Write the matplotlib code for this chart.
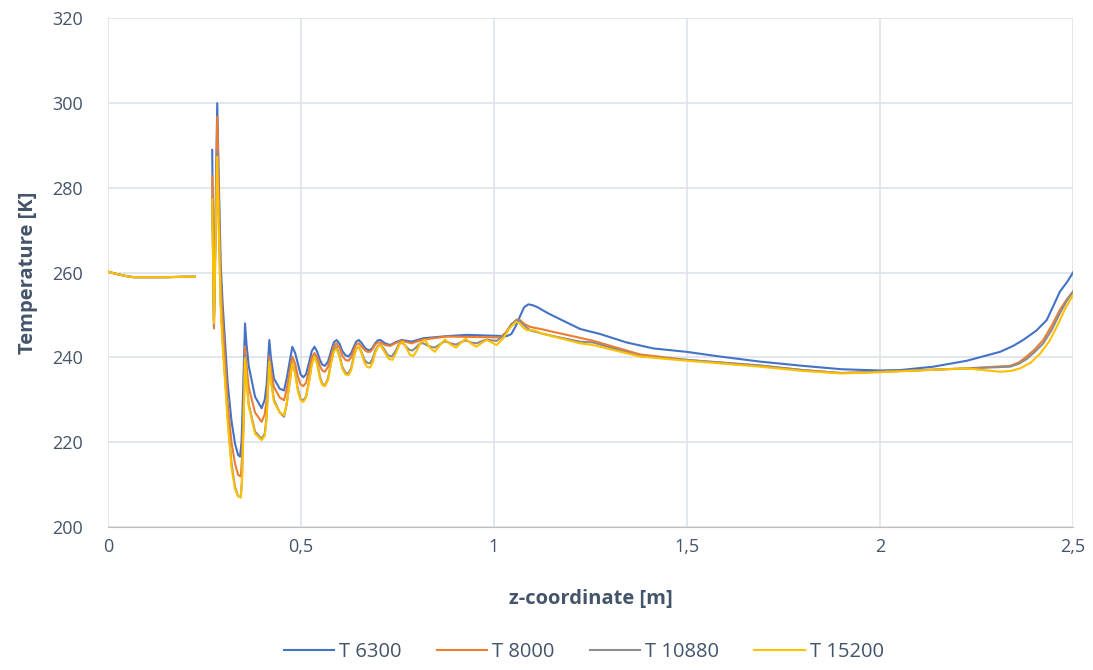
import numpy as np
import matplotlib
matplotlib.use("Agg")
import matplotlib.pyplot as plt

# z-coordinate [m] and temperature [K]
# (NaN marks the gap in the curves between the inlet part and the spikes)
z_inlet = [0.0, 0.02, 0.045, 0.066, 0.10, 0.15, 0.20, 0.225, 0.25]
t_inlet = [260.2, 259.7, 259.2, 258.9, 258.9, 258.9, 259.0, 259.0, np.nan]

z_6300 = [0.270, 0.2745, 0.283, 0.2875, 0.292, 0.297, 0.310, 0.320, 0.329, 0.337,
          0.342, 0.346, 0.350, 0.355, 0.359, 0.3645, 0.381, 0.398, 0.406, 0.411,
          0.418, 0.422, 0.430, 0.445, 0.456, 0.463, 0.4775, 0.485, 0.492, 0.499,
          0.506, 0.513, 0.521, 0.528, 0.535, 0.542, 0.549, 0.555, 0.562, 0.570,
          0.578, 0.585, 0.592, 0.600, 0.607, 0.615, 0.623, 0.630, 0.637, 0.643,
          0.650, 0.657, 0.665, 0.672, 0.679, 0.686, 0.692, 0.699, 0.706, 0.718,
          0.731, 0.746, 0.761, 0.774, 0.787, 0.802, 0.817, 0.877, 0.929, 1.033,
          1.045, 1.057, 1.067, 1.078, 1.089, 1.100, 1.111, 1.140, 1.171, 1.223,
          1.275, 1.344, 1.413, 1.499, 1.585, 1.689, 1.800, 1.900, 2.000, 2.052,
          2.138, 2.225, 2.311, 2.345, 2.371, 2.405, 2.432, 2.450, 2.466, 2.485,
          2.500]
t_6300 = [288.9, 248.8, 299.9, 280.0, 262.0, 252.7, 233.9, 225.0, 219.7, 217.0,
          216.6, 220.0, 232.0, 248.0, 243.0, 238.0, 230.7, 228.0, 230.0, 233.5,
          244.1, 240.0, 235.0, 232.6, 232.2, 235.0, 242.5, 241.0, 238.5, 236.0,
          235.3, 236.0, 238.8, 241.5, 242.5, 241.3, 239.4, 238.3, 238.0, 239.0,
          241.5, 243.5, 244.1, 243.2, 241.5, 240.5, 240.2, 241.0, 242.5, 243.7,
          244.1, 243.4, 242.3, 241.8, 241.7, 242.3, 243.3, 244.0, 244.1, 243.3,
          242.9, 243.6, 244.1, 243.9, 243.7, 244.1, 244.5, 245.0, 245.3, 245.0,
          245.5, 247.5, 249.6, 251.8, 252.5, 252.3, 251.9, 250.4, 249.0, 246.7,
          245.5, 243.5, 242.1, 241.3, 240.2, 239.0, 238.0, 237.2, 236.9, 237.0,
          237.8, 239.2, 241.3, 242.7, 244.1, 246.3, 248.8, 252.3, 255.5, 257.8,
          260.0]

z_8000 = [0.270, 0.2745, 0.283, 0.2875, 0.292, 0.297, 0.310, 0.320, 0.329, 0.337,
          0.344, 0.347, 0.351, 0.355, 0.359, 0.3645, 0.381, 0.398, 0.406, 0.411,
          0.418, 0.422, 0.430, 0.445, 0.456, 0.463, 0.4775, 0.485, 0.492, 0.499,
          0.506, 0.513, 0.521, 0.528, 0.535, 0.542, 0.549, 0.555, 0.562, 0.570,
          0.578, 0.585, 0.592, 0.600, 0.607, 0.615, 0.623, 0.630, 0.637, 0.643,
          0.650, 0.657, 0.665, 0.672, 0.679, 0.686, 0.692, 0.699, 0.706, 0.718,
          0.731, 0.746, 0.761, 0.774, 0.787, 0.802, 0.817, 0.877, 1.016, 1.030,
          1.045, 1.059, 1.067, 1.078, 1.093, 1.120, 1.154, 1.223, 1.257, 1.378,
          1.499, 1.689, 1.800, 1.900, 2.000, 2.225, 2.337, 2.360, 2.380, 2.400,
          2.423, 2.445, 2.466, 2.485, 2.500]
t_8000 = [282.7, 246.8, 296.7, 276.0, 258.0, 249.0, 229.5, 220.0, 215.0, 212.3,
          211.9, 216.0, 228.0, 242.5, 238.0, 233.0, 227.0, 224.8, 226.5, 230.0,
          240.2, 237.0, 233.0, 230.5, 229.9, 232.5, 240.2, 238.5, 235.5, 233.6,
          233.2, 234.0, 237.0, 240.0, 241.0, 240.0, 238.0, 236.9, 236.6, 237.8,
          240.5, 242.6, 243.3, 242.3, 240.4, 239.4, 239.2, 240.0, 241.8, 243.0,
          243.3, 242.6, 241.7, 241.3, 241.3, 242.0, 243.0, 243.5, 243.5, 242.9,
          242.7, 243.4, 243.9, 243.6, 243.3, 243.8, 244.2, 244.9, 244.7, 245.8,
          247.8, 248.9, 248.8, 247.9, 247.2, 246.7, 246.0, 244.6, 243.9, 240.7,
          239.4, 238.0, 237.0, 236.3, 236.6, 237.4, 238.0, 238.8, 240.2, 241.8,
          244.1, 247.5, 251.2, 253.8, 255.5]

z_10880 = [0.270, 0.2745, 0.283, 0.2875, 0.292, 0.297, 0.310, 0.320, 0.329, 0.337,
           0.344, 0.347, 0.351, 0.355, 0.359, 0.3645, 0.381, 0.398, 0.406, 0.411,
           0.418, 0.422, 0.430, 0.445, 0.456, 0.463, 0.4775, 0.485, 0.492, 0.499,
           0.506, 0.513, 0.521, 0.528, 0.535, 0.542, 0.549, 0.555, 0.562, 0.570,
           0.578, 0.585, 0.592, 0.600, 0.607, 0.615, 0.623, 0.630, 0.637, 0.643,
           0.650, 0.657, 0.665, 0.672, 0.679, 0.686, 0.692, 0.699, 0.706, 0.715,
           0.725, 0.735, 0.745, 0.753, 0.761, 0.770, 0.780, 0.789, 0.800, 0.808,
           0.817, 0.832, 0.847, 0.860, 0.873, 0.888, 0.902, 0.915, 0.927, 0.941,
           0.955, 0.968, 0.981, 0.994, 1.007, 1.030, 1.045, 1.059, 1.067, 1.080,
           1.093, 1.120, 1.154, 1.223, 1.257, 1.378, 1.499, 1.689, 1.800, 1.900,
           2.000, 2.225, 2.337, 2.360, 2.380, 2.400, 2.423, 2.445, 2.466, 2.485,
           2.500]
t_10880 = [277.5, 247.5, 288.5, 270.0, 253.0, 244.0, 226.0, 215.0, 209.5, 207.3,
           207.0, 211.0, 224.0, 240.5, 235.0, 229.0, 222.5, 220.8, 222.0, 226.0,
           239.3, 235.0, 230.0, 227.0, 226.0, 229.0, 238.8, 236.5, 232.5, 230.2,
           229.8, 230.8, 234.5, 238.5, 240.3, 238.8, 235.5, 233.8, 233.4, 235.0,
           239.0, 241.8, 242.5, 240.5, 237.8, 236.4, 236.2, 237.5, 240.3, 242.0,
           242.5, 241.2, 239.3, 238.7, 238.6, 239.8, 241.5, 242.7, 243.0, 242.0,
           240.5, 240.2, 241.5, 243.0, 243.5, 242.8, 241.8, 241.6, 242.5, 243.3,
           243.3, 242.6, 242.3, 243.1, 243.8, 243.3, 243.0, 243.6, 244.0, 243.5,
           243.3, 243.8, 244.2, 244.0, 243.9, 245.5, 247.8, 248.8, 248.6, 247.4,
           246.4, 245.7, 245.0, 243.7, 243.5, 240.3, 239.4, 238.1, 237.0, 236.3,
           236.6, 237.4, 237.8, 238.5, 239.6, 241.2, 243.3, 246.5, 250.4, 253.5,
           255.5]

z_15200 = [0.270, 0.2745, 0.283, 0.2875, 0.292, 0.297, 0.310, 0.320, 0.329, 0.337,
           0.344, 0.347, 0.351, 0.355, 0.359, 0.3645, 0.381, 0.398, 0.406, 0.411,
           0.418, 0.422, 0.430, 0.445, 0.456, 0.463, 0.4775, 0.485, 0.492, 0.499,
           0.506, 0.513, 0.521, 0.528, 0.535, 0.542, 0.549, 0.555, 0.562, 0.570,
           0.578, 0.585, 0.592, 0.600, 0.607, 0.615, 0.623, 0.630, 0.637, 0.643,
           0.650, 0.657, 0.665, 0.672, 0.679, 0.686, 0.692, 0.699, 0.706, 0.715,
           0.727, 0.737, 0.747, 0.755, 0.763, 0.772, 0.782, 0.791, 0.800, 0.810,
           0.821, 0.834, 0.847, 0.860, 0.873, 0.888, 0.902, 0.915, 0.927, 0.941,
           0.955, 0.968, 0.981, 0.994, 1.007, 1.024, 1.040, 1.057, 1.066, 1.076,
           1.085, 1.102, 1.125, 1.154, 1.223, 1.257, 1.378, 1.499, 1.689, 1.800,
           1.900, 2.000, 2.225, 2.311, 2.340, 2.363, 2.390, 2.415, 2.438, 2.458,
           2.480, 2.500]
t_15200 = [277.3, 248.0, 287.3, 269.0, 252.0, 243.0, 225.0, 214.0, 209.0, 207.2,
           207.0, 210.5, 223.0, 239.8, 234.5, 228.5, 222.0, 220.5, 221.5, 225.5,
           239.0, 234.5, 229.5, 227.0, 226.4, 229.0, 238.6, 236.0, 232.0, 229.9,
           229.5, 230.5, 234.2, 238.3, 240.2, 238.3, 235.0, 233.5, 233.2, 234.6,
           238.6, 241.4, 242.1, 240.0, 237.3, 236.0, 235.8, 237.0, 240.0, 242.0,
           242.5, 240.9, 238.6, 237.7, 237.6, 238.9, 241.0, 242.5, 242.9, 241.5,
           239.7, 239.4, 241.2, 243.0, 243.7, 242.4, 240.6, 240.3, 241.6, 243.5,
           244.1, 242.3, 241.3, 242.9, 244.2, 243.0, 242.3, 243.5, 244.4, 243.2,
           242.5, 243.4, 244.1, 243.5, 242.9, 244.5, 246.8, 248.4, 248.0, 247.0,
           246.4, 246.4, 245.6, 244.9, 243.3, 242.9, 240.2, 239.2, 237.8, 236.8,
           236.2, 236.5, 237.4, 236.6, 236.8, 237.4, 238.7, 240.9, 243.7, 247.2,
           251.5, 254.7]

series = [
    ("T 6300", z_6300, t_6300, "#4472C4"),
    ("T 8000", z_8000, t_8000, "#ED7D31"),
    ("T 10880", z_10880, t_10880, "#8C8C8C"),
    ("T 15200", z_15200, t_15200, "#FFC000"),
]

x_ticks = [0, 0.5, 1, 1.5, 2, 2.5]
x_tick_labels = ["0", "0,5", "1", "1,5", "2", "2,5"]
y_ticks = [200, 220, 240, 260, 280, 300, 320]

plt.rcParams['font.family'] = ['Open Sans', 'DejaVu Sans']
text_col = "#44546A"

fig = plt.figure(figsize=(10.93, 6.70), dpi=100)
ax = fig.add_axes([0.0988, 0.2134, 0.8829, 0.7597])

for label, z, t, col in series:
    ax.plot(z_inlet + z, t_inlet + t, color=col, lw=1.5, label=label)

ax.set_xlim(0, 2.5)
ax.set_ylim(200, 320)
ax.set_xticks(x_ticks)
ax.set_xticklabels(x_tick_labels)
ax.set_yticks(y_ticks)
ax.tick_params(length=0, labelsize=13, labelcolor=text_col)
ax.tick_params(axis="x", pad=8)
ax.tick_params(axis="y", pad=18)
ax.grid(True, color="#DDE2EA", lw=1.2)
ax.set_axisbelow(True)
for side in ["top", "right", "left"]:
    ax.spines[side].set_visible(False)
ax.spines["bottom"].set_color("#BFBFBF")

ax.set_xlabel("z-coordinate [m]", fontsize=14.5, fontweight="bold", color=text_col, labelpad=24)
ax.set_ylabel("Temperature [K]", fontsize=14.5, fontweight="bold", color=text_col, labelpad=10)

fig.legend(loc="lower center", bbox_to_anchor=(0.534, -0.015), ncol=4, frameon=False,
           fontsize=14.5, labelcolor=text_col, handlelength=2.5, columnspacing=1.75,
           handletextpad=0.25)

fig.savefig("out.png", dpi=100)
